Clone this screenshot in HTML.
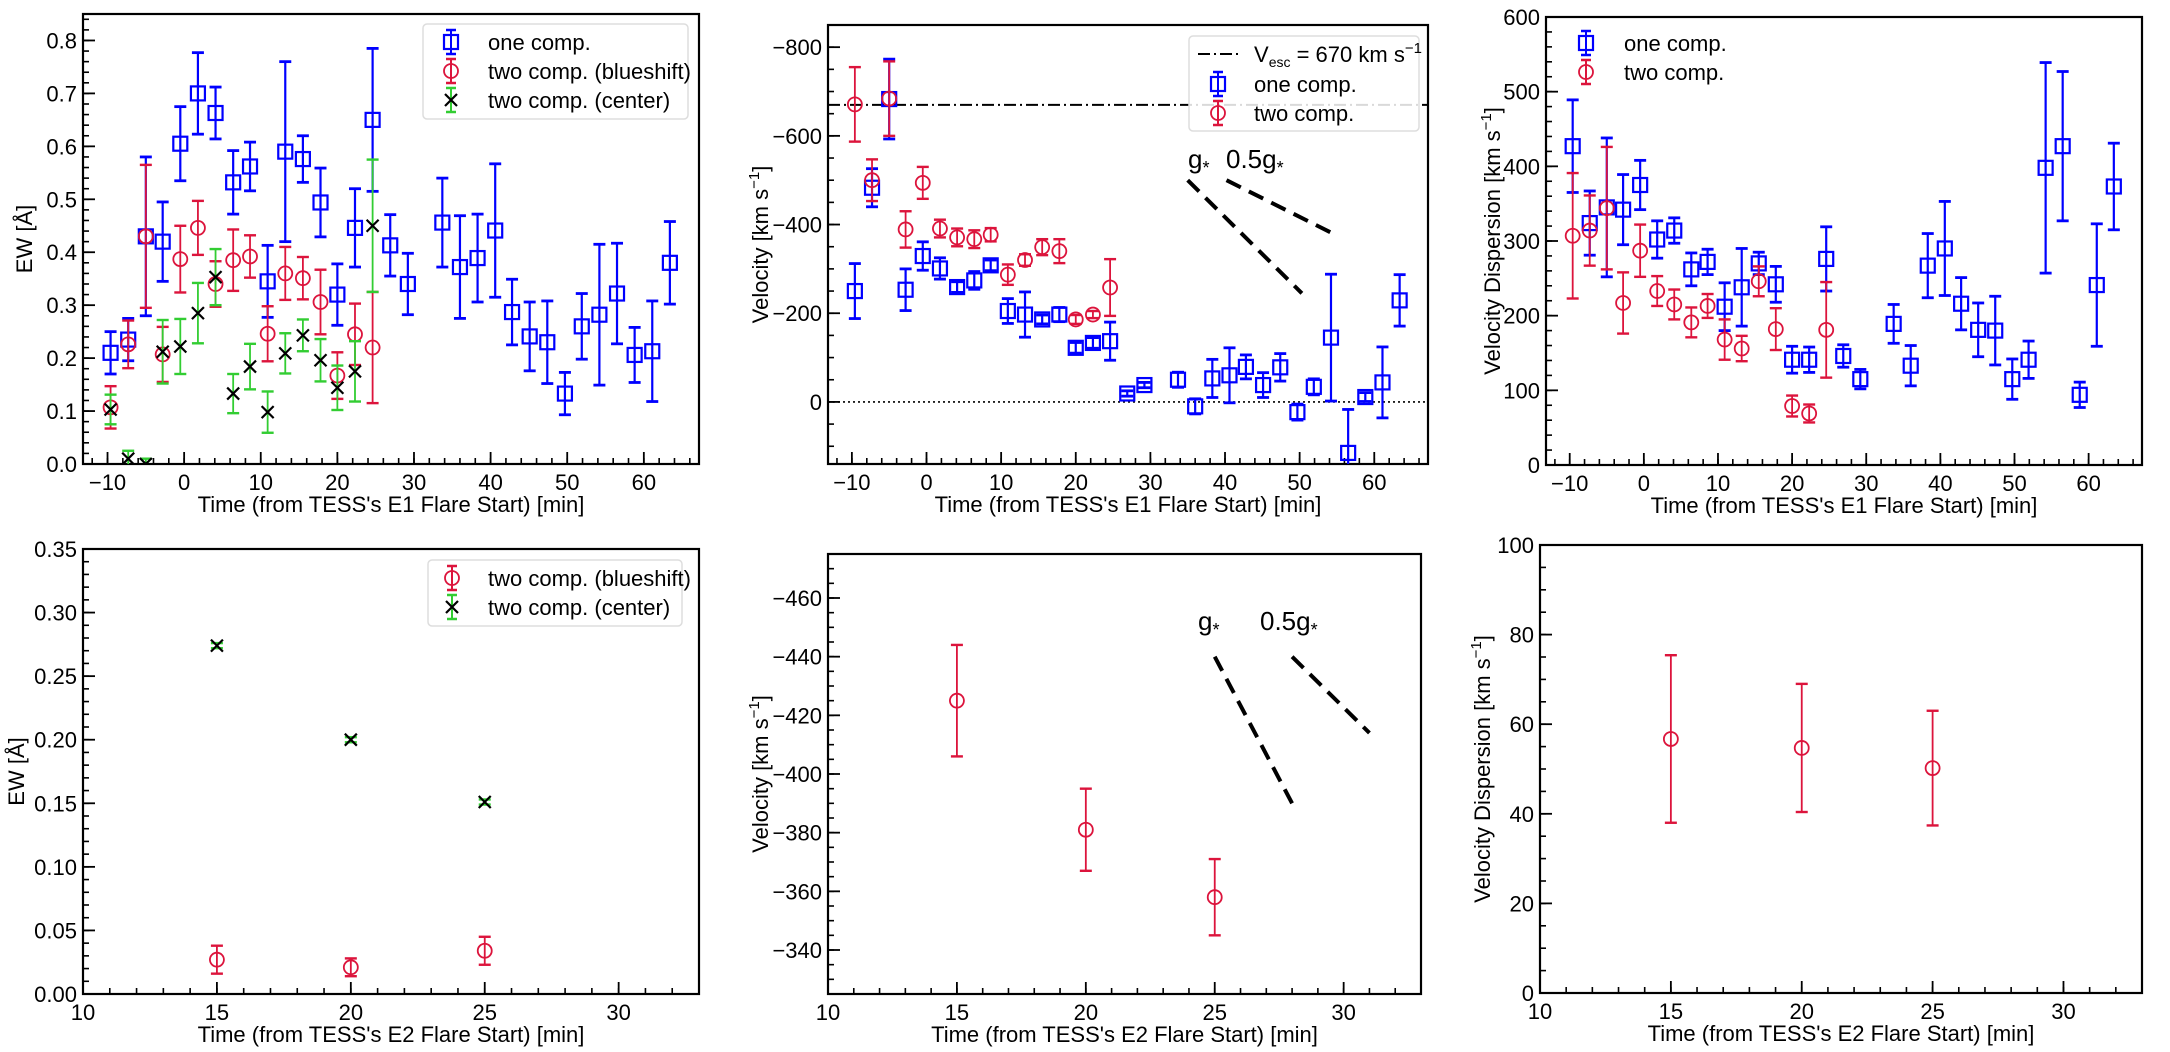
<!DOCTYPE html>
<html><head><meta charset="utf-8"><style>
html,body{margin:0;padding:0;background:#fff;}
svg{display:block;font-family:"Liberation Sans",Arial,sans-serif;}
</style></head><body>
<svg id="fig" width="2170" height="1052" viewBox="0 0 2170 1052" xmlns="http://www.w3.org/2000/svg"></svg>
<script>
// ---- data ----
const timesE1 = [-9.6,-7.3,-5.0,-2.8,-0.5,1.8,4.1,6.4,8.6,10.9,13.2,15.5,17.8,20.0,22.3,24.6,26.9,29.2,31.4,33.7,36.0,38.3,40.6,42.8,45.1,47.4,49.7,51.9,54.2,56.5,58.8,61.1,63.4];
const ewOne = [0.21,0.235,0.43,0.42,0.605,0.70,0.663,0.532,0.562,0.345,0.59,0.576,0.494,0.32,0.446,0.65,0.413,0.34,null,0.456,0.372,0.389,0.441,0.287,0.241,0.23,0.133,0.26,0.282,0.322,0.206,0.213,0.38];
const ewOneErr = [0.04,0.04,0.15,0.075,0.07,0.077,0.049,0.06,0.046,0.068,0.17,0.044,0.065,0.058,0.074,0.135,0.058,0.058,null,0.084,0.097,0.083,0.126,0.062,0.065,0.078,0.04,0.062,0.133,0.095,0.052,0.095,0.078];
const ewBlue = [0.107,0.226,0.43,0.207,0.387,0.446,0.34,0.385,0.392,0.246,0.36,0.351,0.306,0.167,0.245,0.22];
const ewBlueErr = [0.04,0.045,0.135,0.052,0.063,0.051,0.043,0.058,0.04,0.052,0.05,0.04,0.061,0.044,0.058,0.105];
const ewCenter = [0.103,0.01,0.0,0.212,0.222,0.285,0.353,0.133,0.184,0.098,0.209,0.243,0.196,0.144,0.175,0.45];
const ewCenterErr = [0.028,0.015,0.01,0.06,0.052,0.057,0.053,0.037,0.043,0.039,0.038,0.03,0.04,0.042,0.057,0.125];
const velOne = [-250,-483,-683,-253,-329,-301,-259,-274,-308,-205,-197,-186,-197,-122,-133,-137,-19,-38,null,-50,10,-53,-60,-79,-38,-78,23,-34,-145,115,-11,-44,-229];
const velOneErr = [62,43,90,47,32,24,12,20,12,28,51,10,16,12,12,43,6,6,null,17,17,43,62,27,28,31,18,18,143,98,10,80,58];
const velTwo = [-671,-500,-684,-389,-494,-391,-371,-367,-377,-287,-320,-349,-340,-186,-197,-258];
const velTwoErr = [84,47,84,41,36,20,20,20,15,23,13,18,27,10,8,64];
const dispOne = [427,324,345,342,375,302,314,262,272,212,238,270,242,141,141,276,146,115,null,189,133,267,290,216,181,180,115,141,398,427,94,241,373];
const dispOneErr = [62,43,93,47,33,25,17,22,17,32,52,15,24,18,17,43,15,13,null,26,27,43,63,35,36,46,27,25,141,100,17,82,58];
const dispTwo = [307,314,344,217,287,233,215,191,213,168,156,246,182,79,69,181];
const dispTwoErr = [84,47,82,41,35,20,20,20,16,27,17,20,28,14,12,64];
const vEsc = -670;
const timesE2 = [15,20,25];
const ew2Blue = [0.027,0.021,0.034];
const ew2BlueErr = [0.011,0.007,0.011];
const ew2Center = [0.274,0.200,0.151];
const ew2CenterErr = [0.002,0.002,0.002];
const vel2 = [-425,-381,-358];
const vel2Err = [19,14,13];
const disp2 = [56.7,54.7,50.2];
const disp2Err = [18.7,14.3,12.8];
const gE1 = [[35,-500,50.3,-245],[40.2,-500,54.9,-376]];
const gE2 = [[25,-440,28,-390],[28,-440,31,-414]];

const NS="http://www.w3.org/2000/svg";
const svg=document.getElementById('fig');
function mk(tag,attrs,parent){const e=document.createElementNS(NS,tag);for(const k in attrs)e.setAttribute(k,attrs[k]);(parent||svg).appendChild(e);return e;}
const BLUE="#0000ff",RED="#dc143c",GREEN="#32cd32";

function makePanel(o){
  const g=mk('g',{});
  
  
  o.g=g;
  o.sx=v=>o.x0+(v-o.xmin)/(o.xmax-o.xmin)*(o.x1-o.x0);
  o.sy=v=>o.y1-(v-o.ymin)/(o.ymax-o.ymin)*(o.y1-o.y0);
  return o;
}
function axes(o){
  const g=o.g;
  const lo=Math.min(o.ymin,o.ymax),hi=Math.max(o.ymin,o.ymax);
  for(let v=Math.ceil(o.xmin/o.xminor)*o.xminor;v<=o.xmax+1e-9;v+=o.xminor){
    const x=o.sx(v);mk('line',{x1:x,x2:x,y1:o.y1,y2:o.y1-6,stroke:'#000','stroke-width':1.6},g);
  }
  for(let v=Math.ceil(o.xmin/o.xmajor)*o.xmajor;v<=o.xmax+1e-9;v+=o.xmajor){
    const x=o.sx(v);mk('line',{x1:x,x2:x,y1:o.y1,y2:o.y1-12,stroke:'#000','stroke-width':1.8},g);
    const t=mk('text',{x:x,y:o.y1+26,'text-anchor':'middle','font-size':22},g);
    t.textContent=(v<0?'\u2212'+(-v):String(+v.toFixed(2)));
    
    
  }
  for(let v=Math.ceil(lo/o.yminor-1e-9)*o.yminor;v<=hi+1e-9;v+=o.yminor){
    const y=o.sy(v);mk('line',{x1:o.x0,x2:o.x0+6,y1:y,y2:y,stroke:'#000','stroke-width':1.6},g);
  }
  for(let v=Math.ceil(lo/o.ymajor-1e-9)*o.ymajor;v<=hi+1e-9;v+=o.ymajor){
    const y=o.sy(v);mk('line',{x1:o.x0,x2:o.x0+12,y1:y,y2:y,stroke:'#000','stroke-width':1.8},g);
    const t=mk('text',{x:o.x0-6,y:y+8,'text-anchor':'end','font-size':22},g);
    const r=Math.round(v*1000)/1000;
    t.textContent=(r<0?'\u2212'+(-r).toFixed(o.dec):r.toFixed(o.dec));
    
    
  }
  mk('rect',{x:o.x0,y:o.y0,width:o.x1-o.x0,height:o.y1-o.y0,fill:'none',stroke:'#000','stroke-width':2.2},g);
  const xl=mk('text',{x:(o.x0+o.x1)/2,y:o.y1+48,'text-anchor':'middle','font-size':22},g);
  xl.textContent=o.xlabel;
  
  
  const yl=mk('text',{x:0,y:0,'text-anchor':'middle','font-size':22,transform:`translate(${o.ylx},${(o.y0+o.y1)/2}) rotate(-90)`},g);
  yl.innerHTML=o.ylabel;
  
  
}
function marker(type,x,y,color,parent){
  if(type==='s') return mk('rect',{x:x-7,y:y-7,width:14,height:14,fill:'none',stroke:color,'stroke-width':2.2},parent);
  if(type==='o') return mk('circle',{cx:x,cy:y,r:7,fill:'none',stroke:color,'stroke-width':1.8},parent);
  return mk('path',{d:`M${x-6} ${y-6}L${x+6} ${y+6}M${x-6} ${y+6}L${x+6} ${y-6}`,stroke:'#000','stroke-width':2.2},parent);
}
function series(o,xs,ys,es,type,color,ecol,name){
  const g=mk('g',{},o.g);
  
  
  const cp=mk('clipPath',{id:'c'+name},g);
  mk('rect',{x:o.x0,y:o.y0,width:o.x1-o.x0,height:o.y1-o.y0},cp);
  g.setAttribute('clip-path',`url(#c${name})`);
  for(let i=0;i<ys.length;i++){
    if(ys[i]===null)continue;
    const x=o.sx(xs[i]),y=o.sy(ys[i]),ya=o.sy(ys[i]+es[i]),yb=o.sy(ys[i]-es[i]);
    const sw=type==='s'?2.2:1.8;
    mk('line',{x1:x,x2:x,y1:ya,y2:yb,stroke:ecol,'stroke-width':sw},g);
    mk('line',{x1:x-6,x2:x+6,y1:ya,y2:ya,stroke:ecol,'stroke-width':sw+0.6},g);
    mk('line',{x1:x-6,x2:x+6,y1:yb,y2:yb,stroke:ecol,'stroke-width':sw+0.6},g);
    const m=marker(type,x,y,color,g);
    
    
  }
}
function legend(o,box,items){
  const g=mk('g',{},o.g);
  
  
  if(box) mk('rect',{x:box[0],y:box[1],width:box[2],height:box[3],rx:4,fill:'#fff','fill-opacity':0.85,stroke:'#ddd','stroke-width':1.5},g);
  items.forEach(it=>{
    const e=mk('g',{},g);
    
    
    if(it.type==='line'){
      mk('line',{x1:it.mx-20,x2:it.mx+20,y1:it.y,y2:it.y,stroke:'#000','stroke-width':2,'stroke-dasharray':'12 4 2 4'},e);
    } else {
      mk('line',{x1:it.mx,x2:it.mx,y1:it.y-12,y2:it.y+12,stroke:it.ecol,'stroke-width':2},e);
      mk('line',{x1:it.mx-5,x2:it.mx+5,y1:it.y-12,y2:it.y-12,stroke:it.ecol,'stroke-width':2.5},e);
      mk('line',{x1:it.mx-5,x2:it.mx+5,y1:it.y+12,y2:it.y+12,stroke:it.ecol,'stroke-width':2.5},e);
      marker(it.type,it.mx,it.y,it.color,e);
    }
    const t=mk('text',{x:it.tx,y:it.y+8,'font-size':22},e);
    t.innerHTML=it.label;
  });
}
function gLines(o,segs,labels){
  segs.forEach((s,i)=>{
    const l=mk('line',{x1:o.sx(s[0]),y1:o.sy(s[1]),x2:o.sx(s[2]),y2:o.sy(s[3]),stroke:'#000','stroke-width':4,'stroke-dasharray':'16 9'},o.g);
    
    
    const t=mk('text',{x:labels[i][0],y:labels[i][1],'font-size':26},o.g);
    t.innerHTML=(i===0?'g':'0.5g')+'<tspan font-size="18" dy="6">*</tspan>';
    
    
  });
}
const XL1="Time (from TESS's E1 Flare Start) [min]", XL2="Time (from TESS's E2 Flare Start) [min]";
const VL='Velocity [km s<tspan font-size="15" dy="-9">\u22121</tspan><tspan dy="9">]</tspan>';
const DL='Velocity Dispersion [km s<tspan font-size="15" dy="-9">\u22121</tspan><tspan dy="9">]</tspan>';

// Panel 1
let p=makePanel({name:'ew-e1-panel',x0:83,x1:699,y0:14,y1:464,xmin:-13.2,xmax:67.2,ymin:0,ymax:0.85,xmajor:10,xminor:2,ymajor:0.1,yminor:0.02,dec:1,xlabel:XL1,ylabel:'EW [Å]',ylx:32});
axes(p);
series(p,timesE1,ewOne,ewOneErr,'s',BLUE,BLUE,'ew-one-comp');
series(p,timesE1,ewBlue,ewBlueErr,'o',RED,RED,'ew-two-blueshift');
series(p,timesE1,ewCenter,ewCenterErr,'x','#000',GREEN,'ew-two-center');
legend(p,[423,24,265,95],[{type:'s',mx:451,y:42,color:BLUE,ecol:BLUE,tx:488,label:'one comp.'},{type:'o',mx:451,y:71,color:RED,ecol:RED,tx:488,label:'two comp. (blueshift)'},{type:'x',mx:451,y:100,color:'#000',ecol:GREEN,tx:488,label:'two comp. (center)'}]);

// Panel 2
p=makePanel({name:'velocity-e1-panel',x0:828,x1:1428,y0:25,y1:464,xmin:-13.2,xmax:67.2,ymin:140,ymax:-850,xmajor:10,xminor:2,ymajor:200,yminor:50,dec:0,xlabel:XL1,ylabel:VL,ylx:768});
axes(p);
let l=mk('line',{x1:p.x0,x2:p.x1,y1:p.sy(vEsc),y2:p.sy(vEsc),stroke:'#000','stroke-width':2,'stroke-dasharray':'12 4 2 4'},p.g);


l=mk('line',{x1:p.x0,x2:p.x1,y1:p.sy(0),y2:p.sy(0),stroke:'#000','stroke-width':1.6,'stroke-dasharray':'2 3'},p.g);


series(p,timesE1,velOne,velOneErr,'s',BLUE,BLUE,'vel-one-comp');
series(p,timesE1,velTwo,velTwoErr,'o',RED,RED,'vel-two-comp');
legend(p,[1189,36,230,95],[{type:'line',mx:1218,y:54,tx:1254,label:'V<tspan font-size="14" dy="5">esc</tspan><tspan dy="-5"> = 670 km s</tspan><tspan font-size="15" dy="-9">\u22121</tspan>'},{type:'s',mx:1218,y:84,color:BLUE,ecol:BLUE,tx:1254,label:'one comp.'},{type:'o',mx:1218,y:113,color:RED,ecol:RED,tx:1254,label:'two comp.'}]);
gLines(p,gE1,[[1188,168],[1226,168]]);

// Panel 3
p=makePanel({name:'dispersion-e1-panel',x0:1546,x1:2142,y0:17,y1:465,xmin:-13.2,xmax:67.2,ymin:0,ymax:600,xmajor:10,xminor:2,ymajor:100,yminor:20,dec:0,xlabel:XL1,ylabel:DL,ylx:1500});
axes(p);
series(p,timesE1,dispOne,dispOneErr,'s',BLUE,BLUE,'disp-one-comp');
series(p,timesE1,dispTwo,dispTwoErr,'o',RED,RED,'disp-two-comp');
legend(p,null,[{type:'s',mx:1586,y:43,color:BLUE,ecol:BLUE,tx:1624,label:'one comp.'},{type:'o',mx:1586,y:72,color:RED,ecol:RED,tx:1624,label:'two comp.'}]);

// Panel 4
p=makePanel({name:'ew-e2-panel',x0:83,x1:699,y0:549,y1:994,xmin:10,xmax:33,ymin:0,ymax:0.35,xmajor:5,xminor:1,ymajor:0.05,yminor:0.01,dec:2,xlabel:XL2,ylabel:'EW [Å]',ylx:24});
axes(p);
series(p,timesE2,ew2Blue,ew2BlueErr,'o',RED,RED,'ew2-two-blueshift');
series(p,timesE2,ew2Center,ew2CenterErr,'x','#000',GREEN,'ew2-two-center');
legend(p,[428,560,254,66],[{type:'o',mx:452,y:578,color:RED,ecol:RED,tx:488,label:'two comp. (blueshift)'},{type:'x',mx:452,y:607,color:'#000',ecol:GREEN,tx:488,label:'two comp. (center)'}]);

// Panel 5
p=makePanel({name:'velocity-e2-panel',x0:828,x1:1421,y0:554,y1:994,xmin:10,xmax:33,ymin:-325,ymax:-475,xmajor:5,xminor:1,ymajor:20,yminor:5,dec:0,xlabel:XL2,ylabel:VL,ylx:768});
axes(p);
series(p,timesE2,vel2,vel2Err,'o',RED,RED,'vel2-two-comp');
gLines(p,gE2,[[1198,630],[1260,630]]);

// Panel 6
p=makePanel({name:'dispersion-e2-panel',x0:1540,x1:2142,y0:545,y1:993,xmin:10,xmax:33,ymin:0,ymax:100,xmajor:5,xminor:1,ymajor:20,yminor:5,dec:0,xlabel:XL2,ylabel:DL,ylx:1490});
axes(p);
series(p,timesE2,disp2,disp2Err,'o',RED,RED,'disp2-two-comp');
</script>
</body></html>
